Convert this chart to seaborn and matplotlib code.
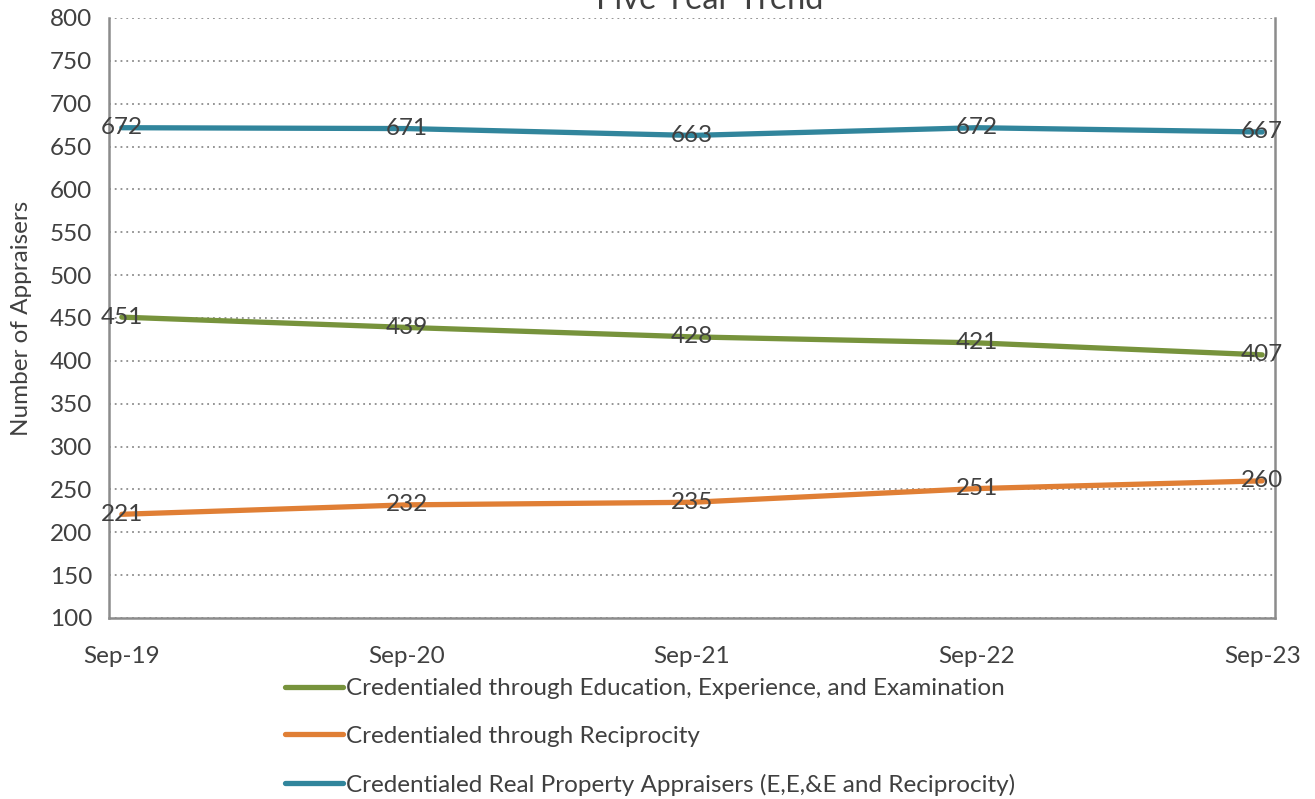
import numpy as np
import pandas as pd
import matplotlib.pyplot as plt
import seaborn as sns

# data
years = ["Sep-19", "Sep-20", "Sep-21", "Sep-22", "Sep-23"]
eee = [451, 439, 428, 421, 407]
reciprocity = [221, 232, 235, 251, 260]
total = [672, 671, 663, 672, 667]

series_names = [
    "Credentialed through Education, Experience, and Examination",
    "Credentialed through Reciprocity",
    "Credentialed Real Property Appraisers (E,E,&E and Reciprocity)",
]
colors = ["#77933C", "#E07F35", "#31859C"]

df = pd.DataFrame({
    "x": list(range(len(years))) * 3,
    "value": eee + reciprocity + total,
    "series": np.repeat(series_names, len(years)),
})

sns.set_style("white")
plt.rcParams["font.family"] = ["Lato", "DejaVu Sans"]
text_color = "#404040"
fs = 17.5

fig = plt.figure(figsize=(13.15, 7.99), dpi=100)
ax = fig.add_axes([109 / 1315, 1 - 618 / 799, (1275 - 109) / 1315, (618 - 18) / 799])

sns.lineplot(data=df, x="x", y="value", hue="series", hue_order=series_names,
             palette=colors, linewidth=3.8, ax=ax, legend=False)

# data labels centred on points
for vals in (eee, reciprocity, total):
    for i, v in enumerate(vals):
        ax.text(i, v, str(v), ha="center", va="center", fontsize=fs, color=text_color)

ax.set_xlim(-0.045, 4.045)
ax.set_ylim(100, 800)
ax.set_yticks(range(100, 801, 50))
ax.set_xticks(range(len(years)))
ax.set_xticklabels(years)
ax.tick_params(axis="both", labelsize=fs, colors=text_color, length=0)
ax.tick_params(axis="x", pad=20)
ax.tick_params(axis="y", pad=12)
ax.set_xlabel("")
ax.set_ylabel("Number of Appraisers", fontsize=17.5, color=text_color)
ax.yaxis.set_label_coords(-77 / 1166, 0.5)

ax.yaxis.grid(True, linestyle=(0, (1, 2.2)), color="#8c8c8c", linewidth=1.3)
ax.set_axisbelow(True)
for side in ("left", "bottom", "right"):
    ax.spines[side].set_color("#8c8c8c")
    ax.spines[side].set_linewidth(1.8)
ax.spines["top"].set_visible(False)

fig.text(710 / 1315, 1 - 0 / 799, "Five Year Trend", ha="center", va="center",
         fontsize=23.5, color=text_color)

handles = [plt.Line2D([], [], color=c, linewidth=3.8) for c in colors]
fig.legend(handles, series_names, loc="upper left",
           bbox_to_anchor=(285 / 1315, 1 - 678 / 799), frameon=False,
           fontsize=fs, labelcolor=text_color, handlelength=2.4,
           handletextpad=0.1, labelspacing=1.1, borderaxespad=0,
           borderpad=0)

fig.savefig("out.png", dpi=100)
